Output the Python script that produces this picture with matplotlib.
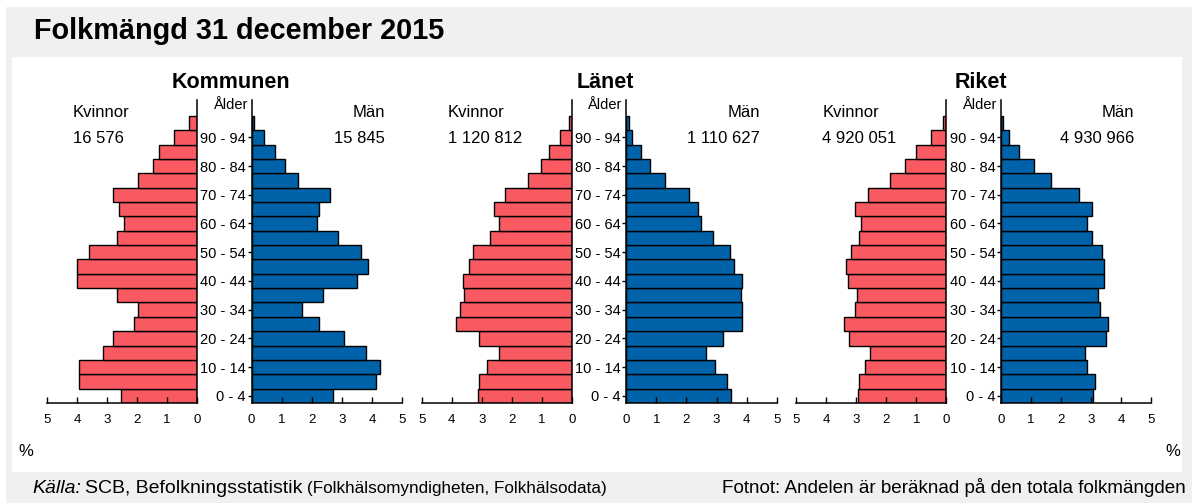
import matplotlib
matplotlib.use('Agg')
import matplotlib.pyplot as plt
from matplotlib.patches import Rectangle

W, H = 1192, 503
plt.rcParams['font.family'] = ['Liberation Sans', 'DejaVu Sans']

# ---------------- data ----------------
age_groups = ['0 - 4', '5 - 9', '10 - 14', '15 - 19', '20 - 24', '25 - 29', '30 - 34',
              '35 - 39', '40 - 44', '45 - 49', '50 - 54', '55 - 59', '60 - 64',
              '65 - 69', '70 - 74', '75 - 79', '80 - 84', '85 - 89', '90 - 94', '95+']
panel_titles = ['Kommunen', 'Länet', 'Riket']
women_totals = ['16 576', '1 120 812', '4 920 051']
men_totals = ['15 845', '1 110 627', '4 930 966']

kommun_women = [2.52, 3.94, 3.92, 3.14, 2.80, 2.11, 1.97, 2.67, 4.00, 4.00,
                3.59, 2.67, 2.44, 2.59, 2.80, 1.98, 1.47, 1.26, 0.77, 0.27]
kommun_men = [2.72, 4.14, 4.28, 3.80, 3.08, 2.24, 1.68, 2.37, 3.50, 3.86,
              3.64, 2.88, 2.17, 2.24, 2.61, 1.53, 1.12, 0.77, 0.42, 0.08]
lan_women = [3.14, 3.08, 2.81, 2.42, 3.08, 3.86, 3.72, 3.58, 3.64, 3.44,
             3.28, 2.72, 2.44, 2.58, 2.22, 1.47, 1.03, 0.76, 0.39, 0.08]
lan_men = [3.47, 3.36, 2.94, 2.66, 3.22, 3.86, 3.86, 3.80, 3.86, 3.58,
           3.44, 2.89, 2.47, 2.39, 2.10, 1.28, 0.78, 0.50, 0.19, 0.10]
riket_women = [2.94, 2.92, 2.70, 2.56, 3.26, 3.41, 3.06, 2.98, 3.28, 3.36,
               3.19, 2.92, 2.86, 3.06, 2.63, 1.87, 1.37, 1.03, 0.52, 0.11]
riket_men = [3.07, 3.14, 2.87, 2.79, 3.50, 3.57, 3.29, 3.22, 3.42, 3.44,
             3.37, 3.01, 2.87, 3.01, 2.59, 1.68, 1.11, 0.61, 0.26, 0.07]

women_data = [kommun_women, lan_women, riket_women]
men_data = [kommun_men, lan_men, riket_men]
x_ticks = [0, 1, 2, 3, 4, 5]

RED = '#F95A62'
BLUE = '#0062A9'
GRAY_BG = '#F0F0F0'

fig = plt.figure(figsize=(W / 100, H / 100), dpi=100, facecolor='white')


def frac_rect(x0, y0, x1, y1):
    return [x0 / W, 1 - y1 / H, (x1 - x0) / W, (y1 - y0) / H]


def ftext(x, y, s, **kw):
    return fig.text(x / W, 1 - y / H, s, **kw)


# background frames
fig.patches.append(Rectangle((6 / W, 0), (W - 6) / W, (H - 7) / H,
                             transform=fig.transFigure, facecolor=GRAY_BG,
                             edgecolor='none', zorder=-10))
fig.patches.append(Rectangle((12 / W, 1 - 472 / H), (1182 - 12) / W, (472 - 57) / H,
                             transform=fig.transFigure, facecolor='white',
                             edgecolor='none', zorder=-9))

ftext(34, 39, 'Folkmängd 31 december 2015', fontsize=20.8, fontweight='bold',
      va='baseline', ha='left')

ypos = list(range(len(age_groups)))
LW = 1.1
for k in range(3):
    o = 374.7 * k
    axw = fig.add_axes(frac_rect(47 + o, 100, 197 + o, 403))
    axm = fig.add_axes(frac_rect(251.5 + o, 100, 402 + o, 403))
    for ax in (axw, axm):
        ax.set_facecolor('none')
        ax.set_ylim(-0.5, 20.6)
        ax.spines['top'].set_visible(False)
        for s in ax.spines.values():
            s.set_linewidth(LW)
        ax.set_xticks(x_ticks)
        ax.tick_params(axis='x', direction='in', length=4, width=1.0,
                       labelsize=9.5, pad=8)
    axw.barh(ypos, women_data[k], height=1.0, color=RED, edgecolor='black',
             linewidth=1.0)
    axm.barh(ypos, men_data[k], height=1.0, color=BLUE, edgecolor='black',
             linewidth=1.0)
    axw.set_xlim(5, 0)
    axm.set_xlim(0, 5)
    axw.spines['left'].set_visible(False)
    axm.spines['right'].set_visible(False)
    axw.set_yticks([])
    axm.set_yticks(ypos[::2])
    axm.set_yticklabels(age_groups[::2])
    axm.tick_params(axis='y', direction='out', length=3, width=1.0, pad=1,
                    labelsize=10.5)

    ftext(231 + o, 88, panel_titles[k], fontsize=15.5, fontweight='bold',
          ha='center', va='baseline')
    ftext(247 + o, 109, 'Ålder', fontsize=10.5, ha='right', va='baseline')
    ftext(73 + o, 117, 'Kvinnor', fontsize=12, ha='left', va='baseline')
    ftext(73 + o, 143, women_totals[k], fontsize=12, ha='left', va='baseline')
    ftext(385 + o, 117, 'Män', fontsize=12, ha='right', va='baseline')
    ftext(385 + o, 143, men_totals[k], fontsize=12, ha='right', va='baseline')

ftext(18, 451, '%', fontsize=12, ha='left', va='center')
ftext(1180, 451, '%', fontsize=12, ha='right', va='center')

# footer
renderer = fig.canvas.get_renderer()
t1 = ftext(32, 493, 'Källa:', fontsize=14, style='italic', ha='left', va='baseline')
bb = t1.get_window_extent(renderer)
x = bb.x1 + 4
t2 = ftext(x, 493, 'SCB, Befolkningsstatistik', fontsize=14, ha='left', va='baseline')
bb = t2.get_window_extent(renderer)
x = bb.x1 + 5
ftext(x, 493, '(Folkhälsomyndigheten, Folkhälsodata)', fontsize=12.3,
      ha='left', va='baseline')
ftext(1186, 493, 'Fotnot: Andelen är beräknad på den totala folkmängden',
      fontsize=13.6, ha='right', va='baseline')

fig.savefig('out.png', dpi=100, facecolor='white')
